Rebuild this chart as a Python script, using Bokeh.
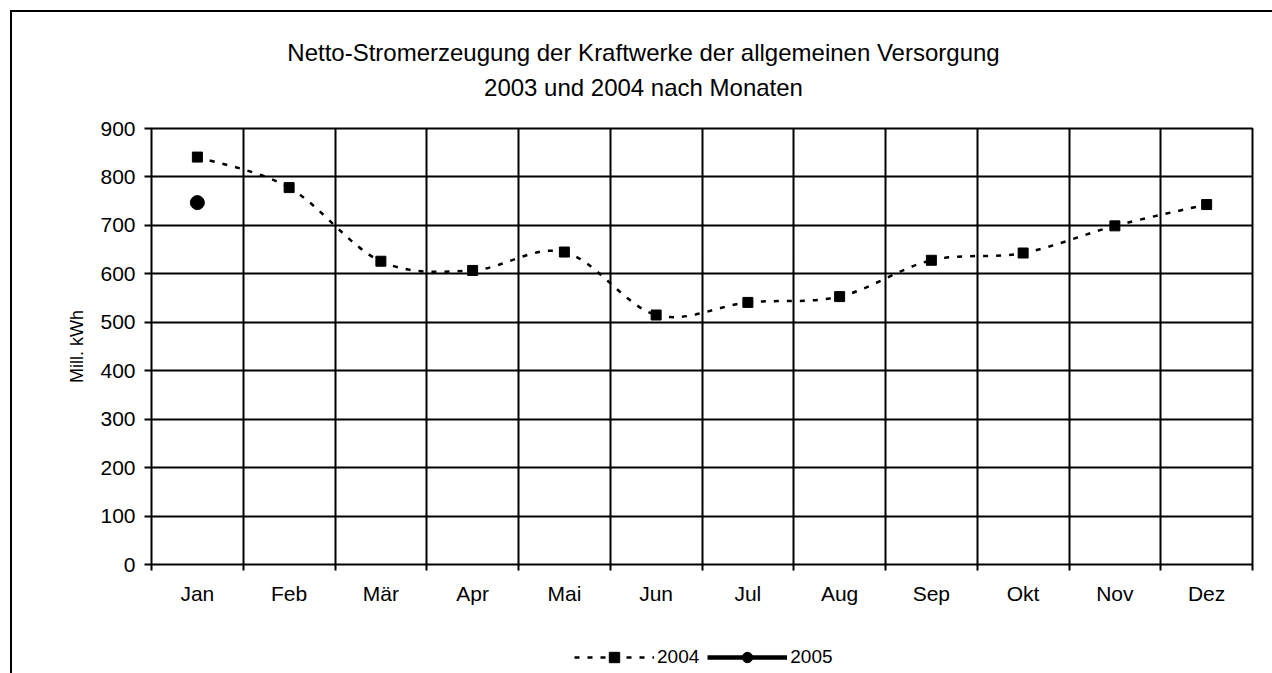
from bokeh.plotting import figure
from bokeh.layouts import column
from bokeh.models import (FixedTicker, LinearAxis, Range1d, Label, Legend, LegendItem)
from bokeh.embed import file_html
from bokeh.resources import INLINE
import numpy as np

months = ["Jan", "Feb", "Mär", "Apr", "Mai", "Jun", "Jul", "Aug", "Sep", "Okt", "Nov", "Dez"]
v2004 = [841, 778, 626, 607, 645, 515, 541, 553, 628, 643, 699, 743]
v2005 = [747]
y_ticks = [0, 100, 200, 300, 400, 500, 600, 700, 800, 900]
title1 = "Netto-Stromerzeugung der Kraftwerke der allgemeinen Versorgung"
title2 = "2003 und 2004 nach Monaten"
ylabel = "Mill. kWh"
series_names = ["2004", "2005"]

FONT = "Liberation Sans"
W = 1260
OX, OY = 12, 12                        # canvas origin on page
FL, FT, FR, FB = 151, 128, 1252, 564   # frame edges on page
TOP_END = 116                          # page y where the main chart figure starts
MAIN_END = 609                         # page y where the legend strip starts
PAGE_END = 673


def blank(height):
    f = figure(width=W, height=height, output_backend="svg", toolbar_location=None,
               x_range=Range1d(0, 1), y_range=Range1d(0, 1), min_border=0,
               x_axis_location=None, y_axis_location=None,
               outline_line_color=None, background_fill_color="white",
               border_fill_color="white")
    f.grid.visible = False
    return f


# ---- title strip (frames of the column children are aligned with the main frame)
top = blank(TOP_END - OY)
for txt, base in ((title1, 61), (title2, 96)):
    top.add_layout(Label(x=643 - FL, y=TOP_END - base + 9, x_units="screen", y_units="screen",
                         text=txt, text_align="center", text_baseline="alphabetic",
                         text_font=FONT, text_font_size="24px", text_color="black"))

# ---- main chart
p = figure(width=W, height=MAIN_END - TOP_END, output_backend="svg", toolbar_location=None,
           x_range=Range1d(0, 12), y_range=Range1d(0, 900),
           min_border_left=FL - OX, min_border_right=W - (FR - OX),
           min_border_top=FT - TOP_END, min_border_bottom=MAIN_END - FB,
           outline_line_color="black", outline_line_width=2,
           background_fill_color="white", border_fill_color="white")

bounds = list(range(0, 13))
p.xgrid.ticker = FixedTicker(ticks=bounds)
p.ygrid.ticker = FixedTicker(ticks=y_ticks)
for g in (p.xgrid[0], p.ygrid[0]):
    g.grid_line_color = "black"
    g.grid_line_width = 2

xa = p.xaxis[0]
xa.ticker = FixedTicker(ticks=bounds)
xa.major_label_overrides = {b: "" for b in bounds}
xa.major_label_text_font_size = "0px"
xa.major_label_standoff = 0
xa.major_tick_out = 6
xa.major_tick_in = 0
xa.major_tick_line_width = 2
xa.axis_line_color = None
xa.minor_tick_line_color = None

centers = [i + 0.5 for i in range(len(months))]
xl = LinearAxis(ticker=FixedTicker(ticks=centers),
                major_label_overrides={c: m for c, m in zip(centers, months)},
                major_tick_line_color=None, minor_tick_line_color=None,
                axis_line_color=None, major_label_standoff=5,
                major_label_text_font=FONT, major_label_text_font_size="21px",
                major_label_text_color="black")
p.add_layout(xl, "below")

ya = p.yaxis[0]
ya.ticker = FixedTicker(ticks=y_ticks)
ya.major_tick_out = 7
ya.major_tick_in = 0
ya.major_tick_line_width = 2
ya.minor_tick_line_color = None
ya.axis_line_color = None
ya.major_label_standoff = 9
ya.major_label_text_font = FONT
ya.major_label_text_font_size = "21px"
ya.major_label_text_color = "black"
ya.axis_label = ylabel
ya.axis_label_text_font = FONT
ya.axis_label_text_font_size = "18px"
ya.axis_label_text_font_style = "normal"
ya.axis_label_text_color = "black"
ya.axis_label_standoff = 10

# smoothed 2004 line (Bezier segments through the data points)
x = np.array(centers, dtype=float)
y = np.array(v2004, dtype=float)
n = len(x)
xp = np.concatenate([[x[0]], x, [x[-1]]])
yp = np.concatenate([[y[0]], y, [y[-1]]])
cx0 = xp[1:n] + (xp[2:n + 1] - xp[0:n - 1]) / 6
cy0 = yp[1:n] + (yp[2:n + 1] - yp[0:n - 1]) / 6
cx1 = xp[2:n + 1] - (xp[3:n + 2] - xp[1:n]) / 6
cy1 = yp[2:n + 1] - (yp[3:n + 2] - yp[1:n]) / 6
p.bezier(x0=x[:-1], y0=y[:-1], x1=x[1:], y1=y[1:], cx0=cx0, cy0=cy0, cx1=cx1, cy1=cy1,
         line_color="black", line_width=2.5, line_dash="5 8")
p.scatter(x=centers, y=v2004, marker="square", size=10, fill_color="black", line_color="black")
p.line(x=centers[:1], y=v2005, line_color="black", line_width=4.5)
p.scatter(x=centers[:1], y=v2005, marker="circle", size=14, fill_color="black", line_color="black")

# ---- legend strip
lf = blank(PAGE_END - MAIN_END)
l04 = lf.line(x=[np.nan], y=[np.nan], line_color="black", line_width=2.5, line_dash="5 8")
s04 = lf.scatter(x=[np.nan], y=[np.nan], marker="square", size=10, fill_color="black", line_color="black")
l05 = lf.line(x=[np.nan], y=[np.nan], line_color="black", line_width=4.5)
s05 = lf.scatter(x=[np.nan], y=[np.nan], marker="circle", size=14, fill_color="black", line_color="black")
GH = 26
legend = Legend(items=[LegendItem(label=series_names[0], renderers=[l04, s04]),
                       LegendItem(label=series_names[1], renderers=[l05, s05])],
                orientation="horizontal",
                location=(574 - FL, (PAGE_END - 657) - GH // 2),
                glyph_width=80, glyph_height=GH, label_standoff=3, spacing=8,
                padding=0, margin=0, border_line_color=None, background_fill_alpha=0,
                label_text_font=FONT, label_text_font_size="19px", label_text_color="black")
lf.add_layout(legend, "center")

layout = column(top, p, lf, spacing=0)
layout.margin = (10, 0, 0, 10)
layout.styles = {"border-top": "2px solid black", "border-left": "2px solid black"}

open("out.html", "w").write(file_html(layout, INLINE))
